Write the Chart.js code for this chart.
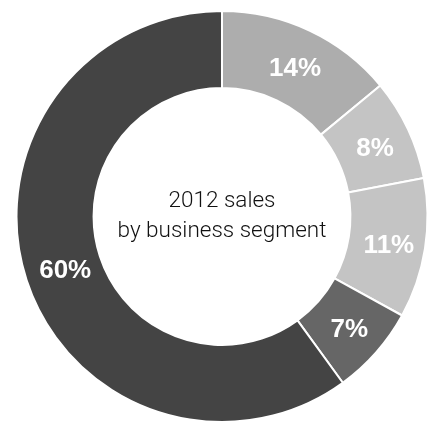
<!DOCTYPE html>
<html>
<head>
<meta charset="utf-8">
<title>2012 sales by business segment</title>
<script src="https://cdn.jsdelivr.net/npm/chart.js@4/dist/chart.umd.min.js"></script>
<style>
  html, body { margin: 0; padding: 0; background: #fff; }
  #wrap { position: relative; width: 434px; height: 423px; }
</style>
</head>
<body>
<div id="wrap"><canvas id="sales"></canvas></div>
<script>
// Segment shares, clockwise from 12 o'clock
const segments = ['Segment A', 'Segment B', 'Segment C', 'Segment D', 'Segment E'];
const shares = [14, 8, 11, 7, 60];
const shareLabels = ['14%', '8%', '11%', '7%', '60%'];
const centerLines = ['2012 sales', 'by business segment'];

const fills = ['#adadad', '#c4c4c4', '#c4c4c4', '#666666', '#444444'];

// white percentage text at each arc's middle
const sliceLabels = {
  id: 'sliceLabels',
  afterDatasetsDraw(chart) {
    const { ctx } = chart;
    const meta = chart.getDatasetMeta(0);
    ctx.save();
    ctx.fillStyle = '#ffffff';
    ctx.font = 'bold 26px "Liberation Sans", Arial, sans-serif';
    ctx.textAlign = 'center';
    ctx.textBaseline = 'middle';
    meta.data.forEach((arc, i) => {
      const p = arc.tooltipPosition();
      ctx.fillText(shareLabels[i], p.x + 2, p.y + 3);
    });
    ctx.restore();
  }
};

// two-line caption in the hole
const centerText = {
  id: 'centerText',
  afterDraw(chart) {
    const { ctx } = chart;
    const arc = chart.getDatasetMeta(0).data[0];
    ctx.save();
    ctx.fillStyle = '#111111';
    ctx.font = '300 22.5px Roboto, sans-serif';
    ctx.textAlign = 'center';
    ctx.textBaseline = 'middle';
    ctx.fillText(centerLines[0], arc.x, arc.y - 15);
    ctx.fillText(centerLines[1], arc.x, arc.y + 15);
    ctx.restore();
  }
};

new Chart(document.getElementById('sales'), {
  type: 'doughnut',
  data: {
    labels: segments,
    datasets: [{
      data: shares,
      backgroundColor: fills,
      borderColor: '#ffffff',
      borderWidth: 2
    }]
  },
  options: {
    responsive: true,
    maintainAspectRatio: false,
    animation: false,
    cutout: '62.5%',
    layout: { padding: { left: 15, right: 5, top: 10, bottom: -2 } },
    plugins: {
      legend: { display: false },
      tooltip: { enabled: false }
    }
  },
  plugins: [sliceLabels, centerText]
});
</script>
</body>
</html>
